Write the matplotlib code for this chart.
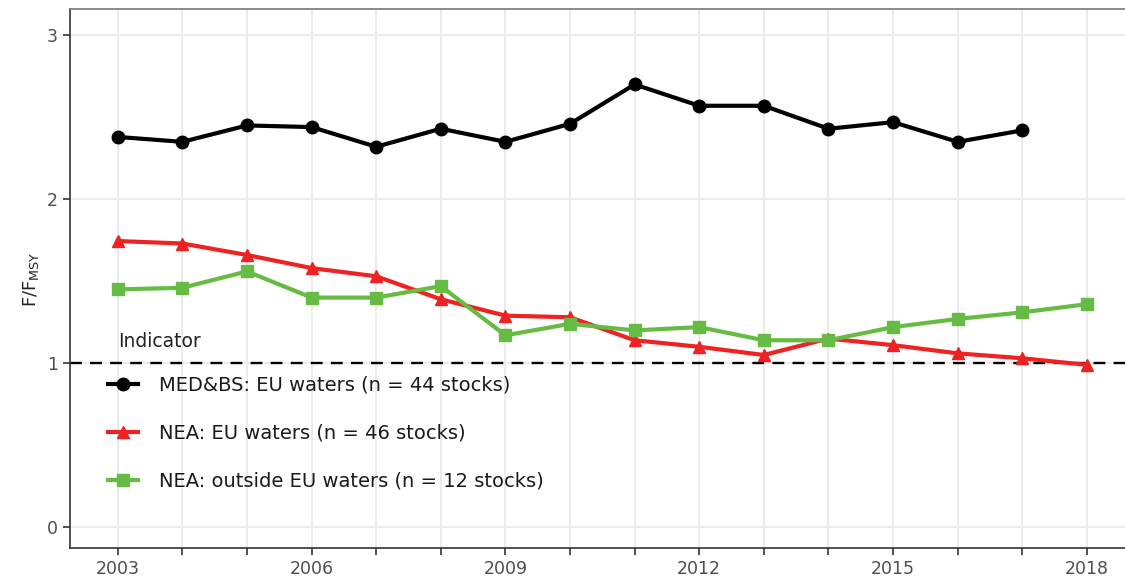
import numpy as np
import matplotlib
matplotlib.use("Agg")
from matplotlib import pyplot as plt

years = list(range(2003, 2019))

med_bs = [2.38, 2.35, 2.45, 2.44, 2.32, 2.43, 2.35, 2.46, 2.70, 2.57, 2.57, 2.43, 2.47, 2.35, 2.42]
nea_eu = [1.745, 1.73, 1.66, 1.58, 1.53, 1.39, 1.29, 1.28, 1.14, 1.10, 1.05, 1.15, 1.11, 1.06, 1.03, 0.99]
nea_out = [1.45, 1.46, 1.56, 1.40, 1.40, 1.47, 1.17, 1.24, 1.20, 1.22, 1.14, 1.14, 1.22, 1.27, 1.31, 1.36]

labels = ["MED&BS: EU waters (n = 44 stocks)",
          "NEA: EU waters (n = 46 stocks)",
          "NEA: outside EU waters (n = 12 stocks)"]
colors = ["#000000", "#ee2222", "#66bb44"]
markers = ["o", "^", "s"]

fig = plt.figure(figsize=(11.25, 5.85), dpi=100)
ax = fig.add_axes([0.062, 0.063, 0.938, 0.921])

series = [med_bs, nea_eu, nea_out]
for vals, lab, c, m in zip(series, labels, colors, markers):
    ax.plot(years[:len(vals)], vals, color=c, marker=m, lw=3, ms=9, label=lab, zorder=3)

ax.axhline(1, color="black", ls=(0, (5, 3.5)), lw=1.7, zorder=2)
ax.text(2003, 1.13, "Indicator", fontsize=13.5, color="#222222", ha="left", va="center")

ax.set_xlim(2002.257, 2018.59)
ax.set_ylim(-0.128, 3.158)
ax.set_xticks(years[::3])
ax.set_xticks(years, minor=True)
ax.set_yticks([0, 1, 2, 3])
ax.grid(True, which="both", color="#ebebeb", lw=1.4, zorder=0)
ax.tick_params(axis="both", which="both", length=5, width=1.2, color="#333333",
               labelsize=12.5, labelcolor="#4d4d4d")
ax.set_ylabel(r"F/F$_{\mathregular{MSY}}$", fontsize=13, color="#222222")

for s in ["left", "bottom", "top"]:
    ax.spines[s].set_color("#333333")
    ax.spines[s].set_linewidth(1.2)
ax.spines["top"].set_color("#777777")
ax.spines["right"].set_visible(False)

leg = ax.legend(loc="upper left", bbox_to_anchor=(0.02, 0.352), frameon=False, fontsize=14,
                handlelength=1.5, labelspacing=1.48, handletextpad=1.1, markerscale=1.0)
for t in leg.get_texts():
    t.set_color("#1a1a1a")

fig.savefig("out.png", dpi=100)
